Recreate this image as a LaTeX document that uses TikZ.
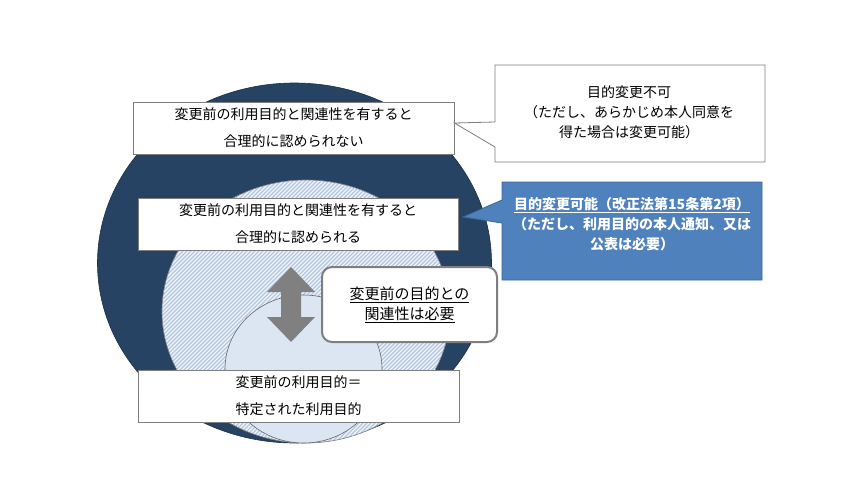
\documentclass[tikz,border=0pt]{standalone}
\usepackage{fontspec}
\newfontfamily\jp{Noto Sans CJK JP}
\definecolor{navy}{HTML}{264364}
\definecolor{navyline}{HTML}{1C2F45}
\definecolor{stripeblue}{HTML}{B3C6DF}
\definecolor{stripebg}{HTML}{F2F6FA}
\definecolor{innerfill}{HTML}{DCE6F2}
\definecolor{boxgray}{HTML}{7F7F7F}
\definecolor{arrowgray}{HTML}{808080}
\definecolor{calloutblue}{HTML}{4F81BD}
\definecolor{calloutline}{HTML}{3B6796}
\begin{document}
\begin{tikzpicture}[x=1pt,y=-1pt,
  whitebox/.style={draw=boxgray, fill=white, line width=0.8pt, inner sep=0pt,
    align=center, font=\jp\fontsize{14}{27}\selectfont},
  roundbox/.style={draw=boxgray, fill=white, line width=2pt, rounded corners=10pt,
    inner sep=0pt, align=center, font=\jp\fontsize{15}{20}\selectfont},
  callouttext/.style={align=center, inner sep=0pt, font=\jp\fontsize{14}{20}\selectfont},
  stripe/.style={draw=stripeblue, line width=1.4pt}
]
\useasboundingbox (0,0) rectangle (860,495);
\fill[white] (0,0) rectangle (860,495);

% outer ellipse
\path[fill=navy, draw=navyline, line width=0.6pt] (294.5,263) ellipse [x radius=197pt, y radius=180pt];

% hatched ellipse
\begin{scope}
  \clip (306,311.5) ellipse [x radius=144pt, y radius=131.5pt];
  \fill[stripebg] (150,170) rectangle (470,460);
  \foreach \c in {330,334,...,910} {
    \draw[stripe] (\c-160,160) -- (\c-470,470);
  }
\end{scope}
\draw[boxgray, line width=0.6pt] (306,311.5) ellipse [x radius=144pt, y radius=131.5pt];

% inner ellipse
\path[fill=innerfill, draw=boxgray!80!black, line width=0.6pt] (303.5,369) ellipse [x radius=78.5pt, y radius=74pt];

% boxes
\node[whitebox, minimum width=321pt, minimum height=52pt] (b1) at (293.5,128)
  {変更前の利用目的と関連性を有すると\\合理的に認められない};
\node[whitebox, minimum width=320pt, minimum height=52pt] (b2) at (298,224)
  {変更前の利用目的と関連性を有すると\\合理的に認められる};
\node[whitebox, minimum width=321pt, minimum height=52pt] (b3) at (298.5,396)
  {変更前の利用目的＝\\特定された利用目的};

% double arrow
\fill[arrowgray] (291,267) -- (315,292) -- (301,292) -- (301,317) -- (315,317)
  -- (291,342) -- (267,317) -- (281,317) -- (281,292) -- (267,292) -- cycle;

% rounded box
\node[roundbox, minimum width=175pt, minimum height=75pt] (rb) at (409.5,304.5)
  {\underline{変更前の目的との}\\\underline{関連性は必要}};

% top-right callout
\coordinate (tip1) at ([yshift=5pt]b1.east);
\draw[boxgray, fill=white, line width=0.8pt] (495,65) -- (765,65) -- (765,162) -- (495,162)
  -- (495,147) -- (tip1) -- (495,122) -- cycle;
\node[callouttext] (c1) at (629,112)
  {目的変更不可\\（ただし、あらかじめ本人同意を\\得た場合は変更可能）};

% blue callout
\coordinate (tip2) at (463,217);
\draw[calloutline, fill=calloutblue, line width=0.8pt] (502,182) -- (762,182) -- (762,280) -- (502,280)
  -- (502,223) -- (tip2) -- (502,200) -- cycle;
\node[callouttext, text=white, font=\jp\bfseries\fontsize{14}{20}\selectfont] (c2) at (632,224)
  {\underline{目的変更可能（改正法第15条第2項）}\\（ただし、利用目的の本人通知、又は\\公表は必要）};
\end{tikzpicture}
\end{document}
